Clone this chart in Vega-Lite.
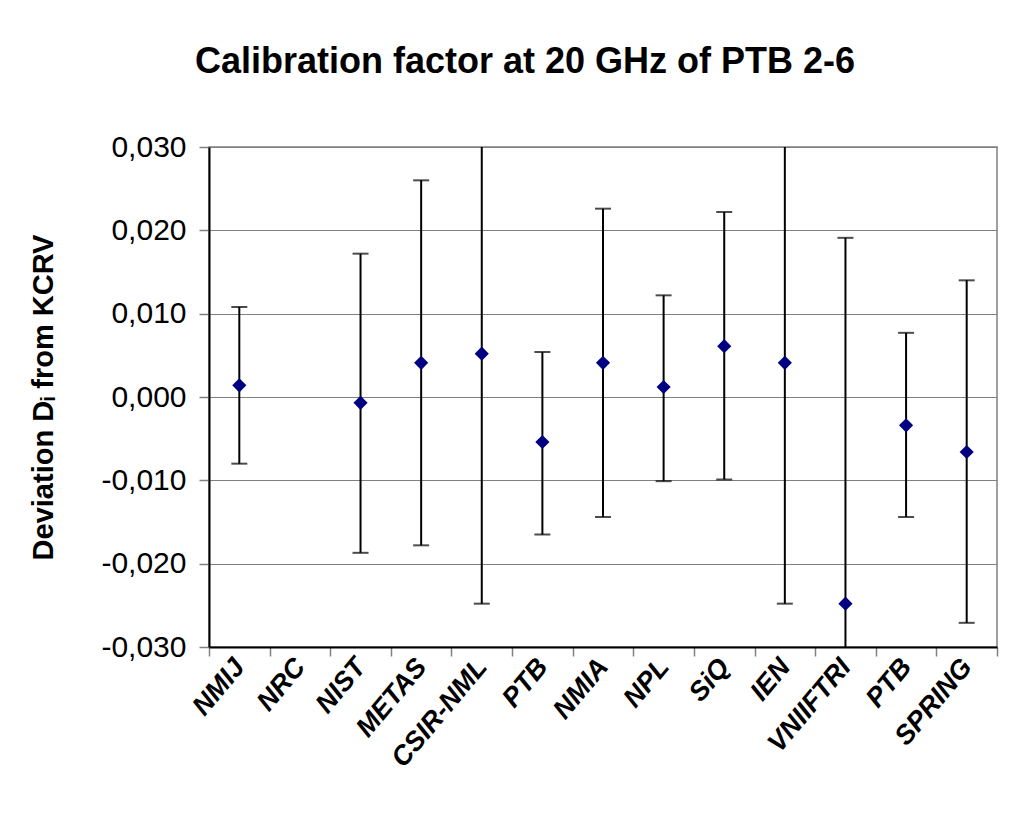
{
  "$schema": "https://vega.github.io/schema/vega-lite/v6.json",
  "width": 788,
  "height": 500,
  "autosize": {"type": "none"},
  "padding": {"left": 209, "top": 147, "right": 30, "bottom": 170},
  "background": "white",
  "title": {
    "text": "Calibration factor at 20 GHz of PTB 2-6",
    "font": "Liberation Sans",
    "fontSize": 36,
    "fontWeight": "bold",
    "color": "black",
    "anchor": "middle",
    "dx": -78,
    "offset": 23,
    "baseline": "alphabetic"
  },
  "config": {
    "font": "Liberation Sans",
    "view": {"stroke": "#808080", "strokeWidth": 1.5}
  },
  "data": {
    "values": [
      {"lab": "NMIJ", "d": 0.0014, "lo": -0.0080, "hi": 0.0108},
      {"lab": "NIST", "d": -0.0007, "lo": -0.0187, "hi": 0.0172},
      {"lab": "METAS", "d": 0.0041, "lo": -0.0178, "hi": 0.0260},
      {"lab": "CSIR-NML", "d": 0.0052, "lo": -0.0248, "hi": 0.0352},
      {"lab": "PTB#1", "d": -0.0054, "lo": -0.0165, "hi": 0.0054},
      {"lab": "NMIA", "d": 0.0041, "lo": -0.0144, "hi": 0.0226},
      {"lab": "NPL", "d": 0.0012, "lo": -0.0101, "hi": 0.0122},
      {"lab": "SiQ", "d": 0.0061, "lo": -0.0099, "hi": 0.0222},
      {"lab": "IEN", "d": 0.0041, "lo": -0.0248, "hi": 0.0330},
      {"lab": "VNIIFTRI", "d": -0.0248, "lo": -0.0687, "hi": 0.0191},
      {"lab": "PTB#2", "d": -0.0034, "lo": -0.0144, "hi": 0.0077},
      {"lab": "SPRING", "d": -0.0066, "lo": -0.0271, "hi": 0.0140}
    ]
  },
  "layer": [
    {
      "mark": {"type": "rule", "color": "black", "strokeWidth": 2, "clip": true},
      "encoding": {
        "x": {
          "field": "lab",
          "type": "nominal",
          "scale": {
            "domain": ["NMIJ", "NRC", "NIST", "METAS", "CSIR-NML", "PTB#1", "NMIA", "NPL", "SiQ", "IEN", "VNIIFTRI", "PTB#2", "SPRING"],
            "paddingInner": 0,
            "paddingOuter": 0
          },
          "axis": {
            "title": null,
            "domainColor": "black",
            "domainWidth": 2,
            "tickColor": "#808080",
            "tickWidth": 1.5,
            "tickSize": 9,
            "tickBand": "extent",
            "labelAngle": -50,
            "labelAlign": "right",
            "labelBaseline": "middle",
            "labelFont": "Liberation Sans",
            "labelFontSize": 27,
            "labelFontWeight": "bold",
            "labelFontStyle": "italic",
            "labelColor": "black",
            "labelPadding": 6,
            "labelExpr": "split(datum.label, '#')[0]",
            "grid": false
          }
        },
        "y": {
          "field": "lo",
          "type": "quantitative",
          "scale": {"domain": [-0.03, 0.03], "nice": false, "zero": false},
          "axis": {
            "title": "Deviation Dᵢ from KCRV",
            "titleFont": "Liberation Sans",
            "titleFontSize": 29,
            "titleFontWeight": "bold",
            "titleColor": "black",
            "titlePadding": 42,
            "values": [-0.03, -0.02, -0.01, 0, 0.01, 0.02, 0.03],
            "labelExpr": "(datum.value < -0.0000001 ? '-' : '') + replace(format(abs(datum.value), '.3f'), '.', ',')",
            "labelFont": "Liberation Sans",
            "labelFontSize": 30,
            "labelColor": "black",
            "labelPadding": 13,
            "domainColor": "black",
            "domainWidth": 2,
            "tickColor": "#808080",
            "tickWidth": 1.5,
            "tickSize": 10,
            "grid": true,
            "gridColor": "#808080",
            "gridWidth": 1.2
          }
        },
        "y2": {"field": "hi"}
      }
    },
    {
      "mark": {"type": "tick", "color": "black", "thickness": 2, "size": 16, "clip": true},
      "encoding": {
        "x": {"field": "lab", "type": "nominal"},
        "y": {"field": "lo", "type": "quantitative"}
      }
    },
    {
      "mark": {"type": "tick", "color": "black", "thickness": 2, "size": 16, "clip": true},
      "encoding": {
        "x": {"field": "lab", "type": "nominal"},
        "y": {"field": "hi", "type": "quantitative"}
      }
    },
    {
      "mark": {"type": "point", "shape": "diamond", "filled": true, "color": "#000080", "size": 200, "opacity": 1},
      "encoding": {
        "x": {"field": "lab", "type": "nominal"},
        "y": {"field": "d", "type": "quantitative"}
      }
    }
  ]
}
